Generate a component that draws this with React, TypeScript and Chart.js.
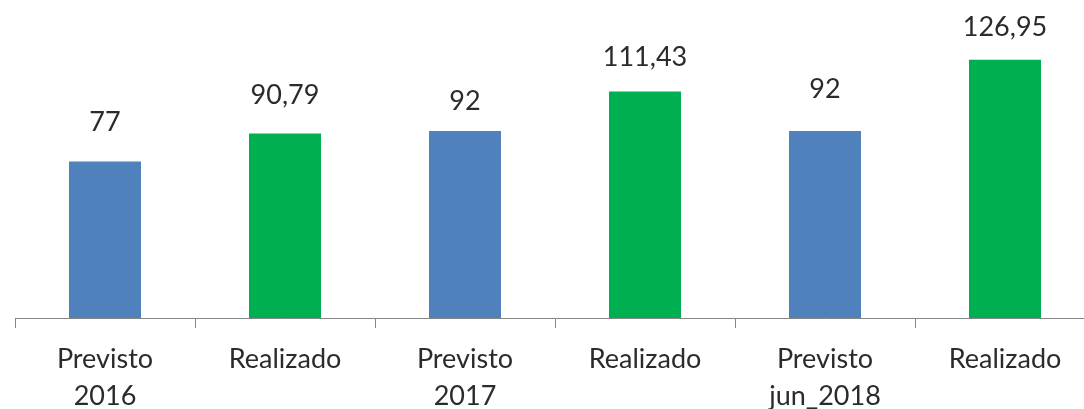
import React, { useEffect, useRef } from "react";
import { Chart, registerables } from "chart.js";

Chart.register(...registerables);

const categories: (string | string[])[] = [
  ["Previsto", "2016"],
  "Realizado",
  ["Previsto", "2017"],
  "Realizado",
  ["Previsto", "jun_2018"],
  "Realizado",
];
const values: number[] = [77, 90.79, 92, 111.43, 92, 126.95];
const barColors: string[] = ["#4F81BD", "#00B050", "#4F81BD", "#00B050", "#4F81BD", "#00B050"];
// gap (px) between each bar top and its value label baseline
const labelGaps: number[] = [30, 29, 21, 25, 33, 24];

const FONT = "Lato, 'Open Sans', sans-serif";

const fmt = (v: number) => String(v).replace(".", ",");

const valueLabels = {
  id: "valueLabels",
  afterDatasetsDraw(chart: any) {
    const ctx = chart.ctx;
    const meta = chart.getDatasetMeta(0);
    ctx.save();
    ctx.font = `27px ${FONT}`;
    ctx.fillStyle = "#2b2b2b";
    ctx.textAlign = "center";
    ctx.textBaseline = "alphabetic";
    meta.data.forEach((bar: any, i: number) => {
      ctx.fillText(fmt(values[i]), bar.x, bar.y - labelGaps[i]);
    });
    ctx.restore();
  },
};

export default function App() {
  const ref = useRef<HTMLCanvasElement>(null);
  useEffect(() => {
    if (!ref.current) return;
    const chart = new Chart(ref.current, {
      type: "bar",
      data: {
        labels: categories as any,
        datasets: [
          {
            data: values,
            backgroundColor: barColors,
            borderWidth: 0,
            barPercentage: 0.4,
            categoryPercentage: 1,
          },
        ],
      },
      options: {
        animation: false,
        responsive: false,
        devicePixelRatio: 1,
        layout: { padding: { left: 15, right: 5, top: 13, bottom: 0 } },
        plugins: {
          legend: { display: false },
          tooltip: { enabled: false },
        },
        scales: {
          x: {
            offset: true,
            grid: {
              display: true,
              offset: true,
              drawOnChartArea: false,
              drawTicks: true,
              tickLength: 10,
              color: "#868686",
            },
            border: { display: true, color: "#868686", width: 1 },
            ticks: {
              color: "#2b2b2b",
              padding: 13,
              maxRotation: 0,
              autoSkip: false,
              font: { family: FONT, size: 27, lineHeight: 37 / 27 },
            },
            afterFit: (scale: any) => {
              scale.height = 91;
            },
          },
          y: {
            display: false,
            min: 0,
            max: 150,
          },
        },
      },
      plugins: [valueLabels],
    });
    return () => chart.destroy();
  }, []);
  return (
    <div
      style={{
        position: "absolute",
        left: 0,
        top: 0,
        width: 1084,
        height: 409,
        overflow: "hidden",
        background: "#ffffff",
      }}
    >
      <canvas ref={ref} width={1100} height={409} style={{ display: "block" }} />
    </div>
  );
}
